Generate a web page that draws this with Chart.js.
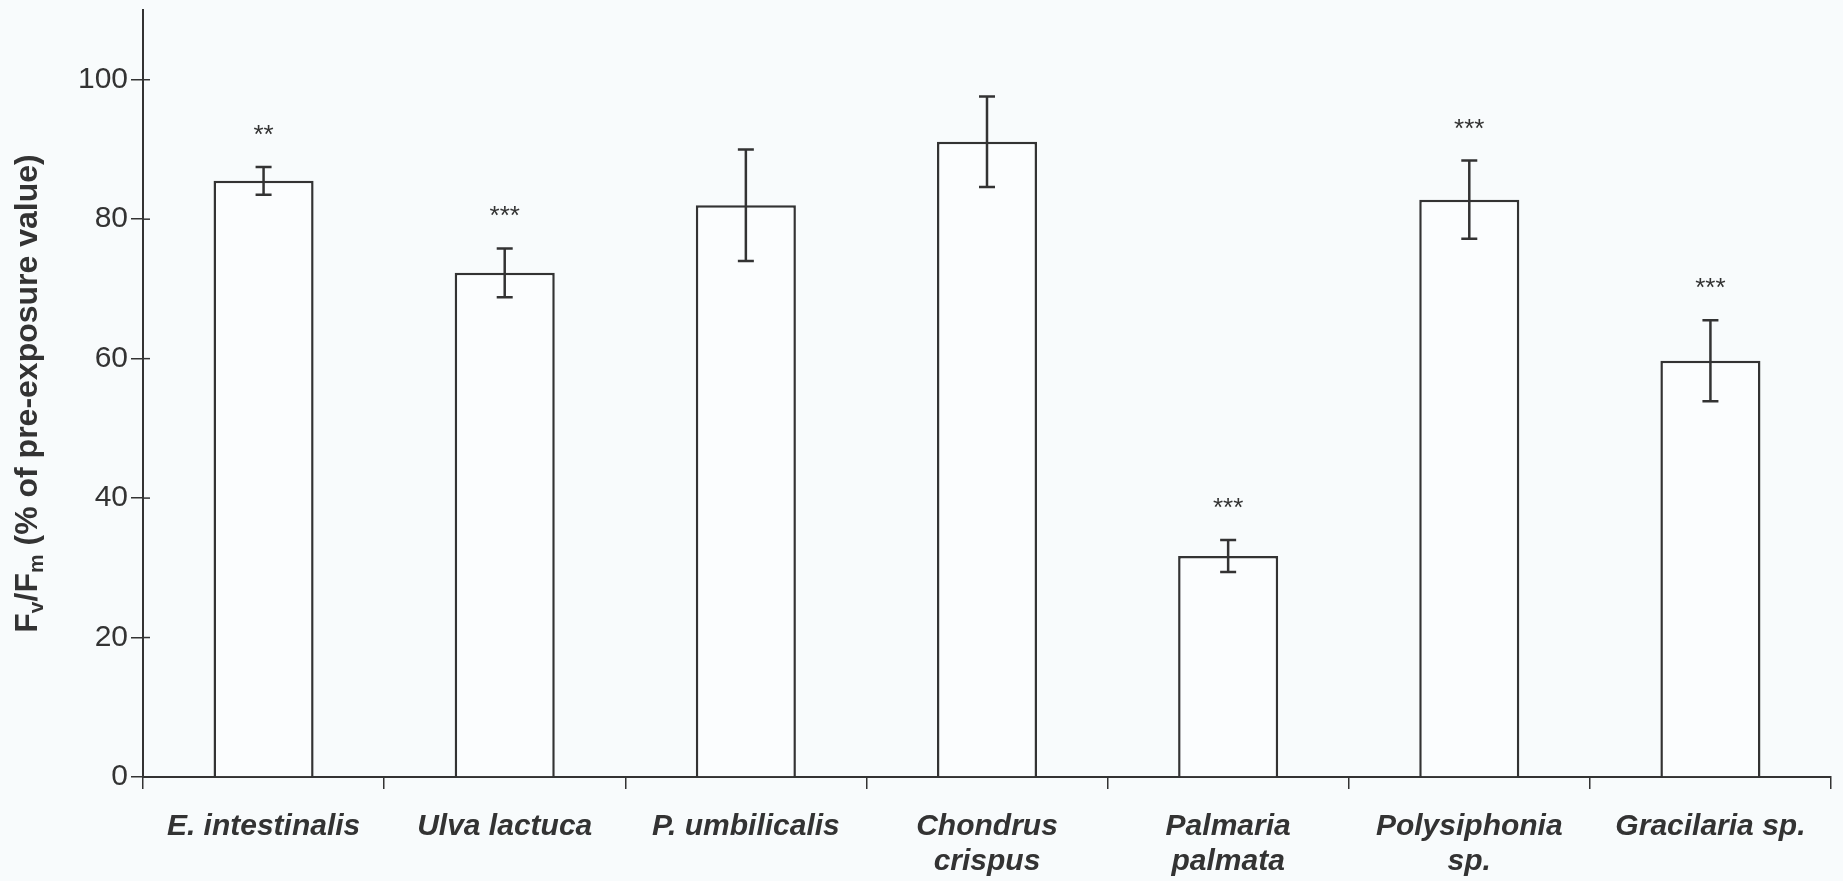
<!DOCTYPE html>
<html>
<head>
<meta charset="utf-8">
<script src="https://cdn.jsdelivr.net/npm/chart.js@4/dist/chart.umd.min.js"></script>
<style>
  html, body { margin: 0; padding: 0; background: #f8fbfc; }
  #wrap { width: 1843px; height: 881px; }
</style>
</head>
<body>
<div id="wrap"><canvas id="chart"></canvas></div>
<script>
const species = [
    'E. intestinalis',
    'Ulva lactuca',
    'P. umbilicalis',
    ['Chondrus', 'crispus'],
    ['Palmaria', 'palmata'],
    ['Polysiphonia', 'sp.'],
    'Gracilaria sp.'
];
const fvfm = [85.5, 72.3, 82.0, 91.1, 31.7, 82.8, 59.7];
const errors = [2.0, 3.5, 8.0, 6.5, 2.3, 5.6, 5.8];
const stars = ['**', '***', '', '', '***', '***', '***'];
const yTicks = [0, 20, 40, 60, 80, 100];

const ink = '#333333';

// error bars + significance stars + inner half of y ticks
const extras = {
    id: 'extras',
    afterDatasetsDraw(chart) {
        const ctx = chart.ctx;
        const y = chart.scales.y;
        const meta = chart.getDatasetMeta(0);
        ctx.save();
        ctx.strokeStyle = ink;
        ctx.lineWidth = 2.5;
        meta.data.forEach((bar, i) => {
            const top = y.getPixelForValue(fvfm[i] + errors[i]);
            const bot = y.getPixelForValue(fvfm[i] - errors[i]);
            ctx.beginPath();
            ctx.moveTo(bar.x, top); ctx.lineTo(bar.x, bot);
            ctx.moveTo(bar.x - 8, top); ctx.lineTo(bar.x + 8, top);
            ctx.moveTo(bar.x - 8, bot); ctx.lineTo(bar.x + 8, bot);
            ctx.stroke();
            if (stars[i]) {
                ctx.fillStyle = ink;
                ctx.font = '26px "Liberation Sans", Arial, sans-serif';
                ctx.textAlign = 'center';
                ctx.textBaseline = 'alphabetic';
                ctx.fillText(stars[i], bar.x, top - 24);
            }
        });
        // y ticks crossing into the plot
        ctx.lineWidth = 1.5;
        yTicks.forEach(v => {
            const py = y.getPixelForValue(v);
            ctx.beginPath();
            ctx.moveTo(chart.chartArea.left, py);
            ctx.lineTo(chart.chartArea.left + 7, py);
            ctx.stroke();
        });
        ctx.restore();
    }
};

// y axis title with subscripts
const yTitle = {
    id: 'yTitle',
    afterDraw(chart) {
        const ctx = chart.ctx;
        const area = chart.chartArea;
        const big = 'bold 32px "Liberation Sans", Arial, sans-serif';
        const small = 'bold 21px "Liberation Sans", Arial, sans-serif';
        const parts = [
            ['F', big, 0], ['v', small, 6], ['/F', big, 0], ['m', small, 6],
            [' (% of pre-exposure value)', big, 0]
        ];
        ctx.save();
        let total = 0;
        parts.forEach(p => { ctx.font = p[1]; total += ctx.measureText(p[0]).width; });
        ctx.translate(37, (area.top + area.bottom) / 2);
        ctx.rotate(-Math.PI / 2);
        ctx.fillStyle = ink;
        ctx.textBaseline = 'alphabetic';
        ctx.textAlign = 'left';
        let x = -total / 2;
        parts.forEach(p => {
            ctx.font = p[1];
            ctx.fillText(p[0], x, p[2]);
            x += ctx.measureText(p[0]).width;
        });
        ctx.restore();
    }
};

new Chart(document.getElementById('chart'), {
    type: 'bar',
    data: {
        labels: species,
        datasets: [{
            data: fvfm,
            backgroundColor: '#fbfdfe',
            borderColor: ink,
            borderWidth: 2.5,
            borderSkipped: 'bottom',
            barPercentage: 0.415,
            categoryPercentage: 1.0
        }]
    },
    options: {
        responsive: true,
        maintainAspectRatio: false,
        animation: false,
        layout: { padding: { left: 0, right: 12, top: 10, bottom: 0 } },
        plugins: { legend: { display: false }, tooltip: { enabled: false } },
        scales: {
            x: {
                offset: true,
                grid: { offset: true, drawOnChartArea: false, drawTicks: true, tickLength: 12, color: ink, lineWidth: 1.5 },
                border: { display: true, color: ink, width: 2 },
                ticks: {
                    color: ink,
                    padding: 20,
                    maxRotation: 0,
                    autoSkip: false,
                    font: { family: '"Liberation Sans", Arial, sans-serif', size: 30, weight: 'bold', style: 'italic', lineHeight: 1.17 }
                },
                afterFit: s => { s.height = 104; s.paddingLeft = 0; s.paddingRight = 0; }
            },
            y: {
                min: 0,
                max: 110,
                afterBuildTicks: s => { s.ticks = yTicks.map(v => ({ value: v })); },
                grid: { drawOnChartArea: false, drawTicks: true, tickLength: 12, color: ink, lineWidth: 1.5 },
                border: { display: true, color: ink, width: 2 },
                ticks: {
                    color: ink,
                    padding: 3,
                    font: { family: '"Liberation Sans", Arial, sans-serif', size: 30 }
                },
                afterFit: s => { s.width = 143; s.paddingTop = 0; s.paddingBottom = 0; }
            }
        }
    },
    plugins: [extras, yTitle]
});
</script>
</body>
</html>
